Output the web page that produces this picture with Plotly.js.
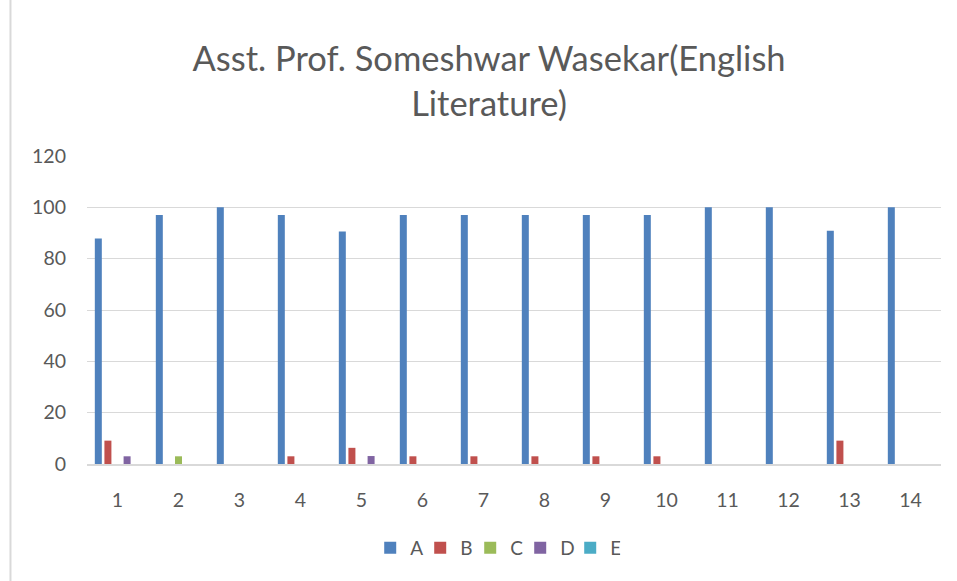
<!DOCTYPE html>
<html>
<head>
<meta charset="utf-8">
<script src="https://cdn.plot.ly/plotly-3.0.1.min.js"></script>
<style>html,body{margin:0;padding:0;background:#fff}#chart{width:957px;height:581px}</style>
</head>
<body>
<div id="chart"></div>
<script>
const categories = ["1","2","3","4","5","6","7","8","9","10","11","12","13","14"];
const seriesA = [87.9, 97, 100, 97, 90.6, 97, 97, 97, 97, 97, 100, 100, 90.9, 100];
const seriesB = [9.1, 0, 0, 3, 6.3, 3, 3, 3, 3, 3, 0, 0, 9.1, 0];
const seriesC = [0, 3, 0, 0, 0, 0, 0, 0, 0, 0, 0, 0, 0, 0];
const seriesD = [3, 0, 0, 0, 3.1, 0, 0, 0, 0, 0, 0, 0, 0, 0];
const seriesE = [0, 0, 0, 0, 0, 0, 0, 0, 0, 0, 0, 0, 0, 0];
const seriesNames = ["A","B","C","D","E"];
const seriesColors = ["#4F81BD","#C0504D","#9BBB59","#8064A2","#4BACC6"];
const yTicks = [0,20,40,60,80,100,120];
const titleText = "Asst. Prof. Someshwar Wasekar(English<br>Literature)";

const allSeries = [seriesA, seriesB, seriesC, seriesD, seriesE];
const traces = allSeries.map((vals, i) => ({
  type: 'bar',
  name: seriesNames[i],
  x: categories,
  y: vals,
  marker: {color: seriesColors[i], line: {width: 0}},
  hoverinfo: 'x+y+name'
}));

const font = 'Lato, "Open Sans", sans-serif';
const layout = {
  width: 957, height: 581,
  margin: {l: 86.5, r: 16.3, t: 156, b: 117, pad: 0},
  paper_bgcolor: '#ffffff', plot_bgcolor: '#ffffff',
  font: {family: font, color: '#595959', size: 19},
  title: {
    text: titleText,
    font: {family: font, size: 34.5, color: '#595959'},
    xref: 'container', x: 0.511, xanchor: 'center',
    yref: 'container', y: 0.878, yanchor: 'middle'
  },
  barmode: 'group',
  bargap: 0.214,
  bargroupgap: 0.27,
  xaxis: {
    type: 'category',
    showgrid: false,
    showline: true, linecolor: '#D9D9D9', linewidth: 1.5,
    ticks: '', ticklabelstandoff: 18,
    tickfont: {family: font, size: 19.5, color: '#595959'},
    zeroline: false, fixedrange: true
  },
  yaxis: {
    range: [0, 120],
    tickvals: yTicks,
    ticktext: yTicks.map(String),
    showgrid: true, gridcolor: '#D9D9D9', gridwidth: 1,
    zeroline: false, showline: false,
    ticks: '', ticklabelstandoff: 20,
    tickfont: {family: font, size: 19.5, color: '#595959'},
    fixedrange: true
  },
  showlegend: true,
  legend: {
    orientation: 'h',
    xref: 'paper', x: 0.478, xanchor: 'center',
    yref: 'paper', y: -0.2727, yanchor: 'middle',
    font: {family: font, size: 19, color: '#595959'},
    itemwidth: 30,
    entrywidth: 5, entrywidthmode: 'pixels',
    traceorder: 'normal',
    bgcolor: 'rgba(0,0,0,0)'
  },
  shapes: [{
    type: 'line', xref: 'paper', yref: 'paper',
    x0: -0.0896, x1: -0.0896, y0: -0.4, y1: 1.6,
    line: {color: '#D9D9D9', width: 2}
  }]
};

Plotly.newPlot('chart', traces, layout, {displayModeBar: false, staticPlot: true});
</script>
</body>
</html>
